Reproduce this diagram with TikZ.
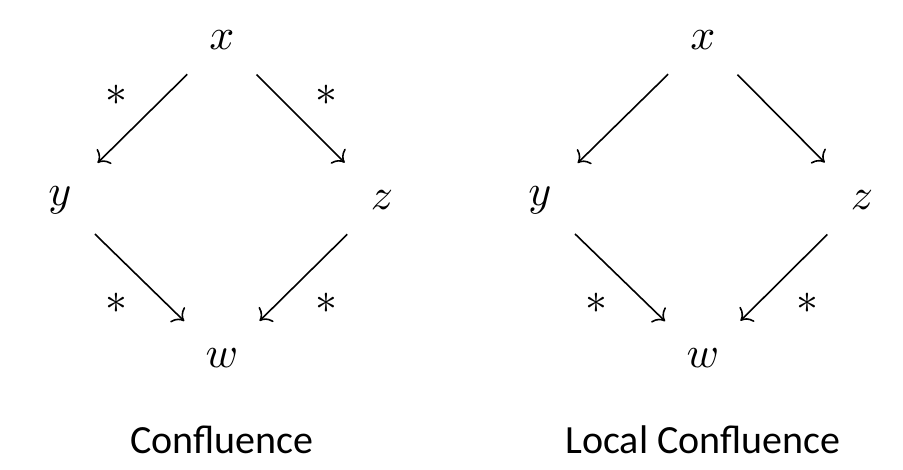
\documentclass[tikz,border=0pt]{standalone}
\usepackage{fontspec}
\newfontfamily\capfont{Carlito}
\usetikzlibrary{arrows.meta}

\begin{document}
\begin{tikzpicture}[x=0.25pt,y=-0.25pt]
\tikzset{obj/.style={circle,minimum size=24pt,inner sep=0pt,font=\fontsize{11}{13}\selectfont},
 ar/.style={->,shorten >=1pt},star/.style={inner sep=3.3pt,font=\fontsize{11}{13}\selectfont},
 caption/.style={font=\capfont}}
\useasboundingbox (0,0) rectangle (903,470);
% confluence
\node[obj] (x1) at (222,40) {$x$};
\node[obj] (y1) at (60,200) {$y$};
\node[obj] (z1) at (382,200) {$z$};
\node[obj] (w1) at (222,358) {$w$};
\draw[ar] (x1) -- (y1) node[star,midway,above left]{$*$};
\draw[ar] (x1) -- (z1) node[star,midway,above right]{$*$};
\draw[ar] (y1) -- (w1) node[star,midway,below left]{$*$};
\draw[ar] (z1) -- (w1) node[star,midway,below right]{$*$};
\node[caption] (c1) at (222,440) {Confluence};
% local confluence
\node[obj] (x2) at (703,40) {$x$};
\node[obj] (y2) at (540,200) {$y$};
\node[obj] (z2) at (862,200) {$z$};
\node[obj] (w2) at (703,358) {$w$};
\draw[ar] (x2) -- (y2);
\draw[ar] (x2) -- (z2);
\draw[ar] (y2) -- (w2) node[star,midway,below left]{$*$};
\draw[ar] (z2) -- (w2) node[star,midway,below right]{$*$};
\node[caption] (c2) at (703,440) {Local Confluence};
\end{tikzpicture}
\end{document}
